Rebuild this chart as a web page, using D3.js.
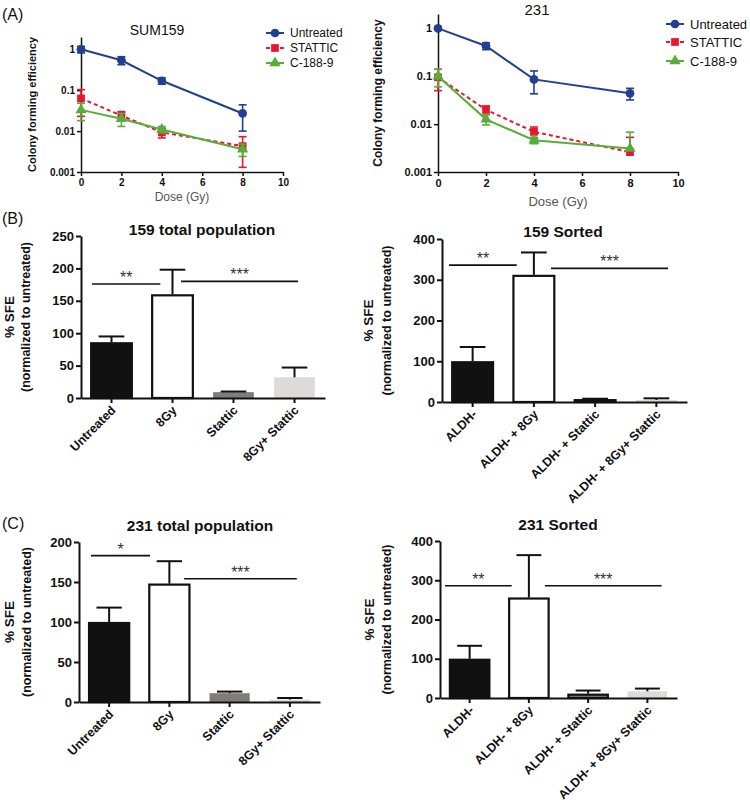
<!DOCTYPE html>
<html><head><meta charset="utf-8">
<script src="https://cdn.jsdelivr.net/npm/d3@7"></script>
<style>body{margin:0;background:#fff}svg{display:block}text{font-family:Arial,"Liberation Sans",sans-serif}</style>
</head><body><svg id="c" width="750" height="800"></svg>
<script>
// ---------- data: panel A (colony forming efficiency) ----------
const doses=[0,2,4,8];
const doseTicks=[0,2,4,6,8,10];
const logTicks=[0.001,0.01,0.1,1];
const logTickLabels=["0.001","0.01","0.1","1"];
const seriesNames=["Untreated","STATTIC","C-188-9"];

const sum159Untreated=[1,0.54,0.17,0.027];
const sum159UntreatedSD=[0.18,0.12,0.03,0.017];
const sum159Stattic=[0.063,0.024,0.0093,0.0043];
const sum159StatticSD=[0.04,0.006,0.0025,0.003];
const sum159C1889=[0.033,0.020,0.011,0.0036];
const sum159C1889SD=[0.015,0.007,0.002,0.0012];

const mda231Untreated=[1,0.43,0.086,0.044];
const mda231UntreatedSD=[0.05,0.07,0.043,0.012];
const mda231Stattic=[0.095,0.020,0.0069,0.0026];
const mda231StatticSD=[0.045,0.004,0.0018,0.0027];
const mda231C1889=[0.1,0.0126,0.0046,0.0031];
const mda231C1889SD=[0.04,0.003,0.0007,0.0037];

// ---------- data: panels B, C (% SFE) ----------
const totalCats=["Untreated","8Gy","Stattic","8Gy+ Stattic"];
const sortedCats=["ALDH-","ALDH- + 8Gy","ALDH- + Stattic","ALDH- + 8Gy+ Stattic"];

const b159TotalVals=[86,160,9,32];
const b159TotalSD=[9,38,1,15];
const b159SortedVals=[100,312,7,5];
const b159SortedSD=[35,55,1,4];
const c231TotalVals=[100,148,11,3];
const c231TotalSD=[18,28,2,2];
const c231SortedVals=[100,256,11,17];
const c231SortedSD=[33,108,8,7];

const ticks250=[0,50,100,150,200,250];
const ticks200=[0,50,100,150,200];
const ticks400=[0,100,200,300,400];

// ---------- drawing ----------
const svg=d3.select("#c");
const INK="#111";

function styleAxis(a,w,fs){
  a.select(".domain").attr("stroke",INK).attr("stroke-width",w);
  a.selectAll(".tick line").attr("stroke",INK).attr("stroke-width",w);
  a.selectAll(".tick text").attr("fill",INK).attr("font-weight","bold").attr("font-size",fs)
    .attr("font-family",'Arial,"Liberation Sans",sans-serif');
}

const seriesStyle=[
  {color:"#233f8f",dash:null,sym:d3.symbolCircle},
  {color:"#e8162e",dash:"4,3",sym:d3.symbolSquare},
  {color:"#58ad3a",dash:null,sym:d3.symbolTriangle}
];

function drawLinePanel(o){
  const g=svg.append("g");
  const x=d3.scaleLinear().domain([0,10]).range(o.xr);
  const y=d3.scaleLog().domain([0.001,2]).range(o.yr);
  const xa=g.append("g").attr("transform",`translate(0,${o.yr[0]})`)
    .call(d3.axisBottom(x).tickValues(doseTicks).tickSize(4).tickSizeOuter(0).tickPadding(3));
  styleAxis(xa,1.5,o.tickFs);
  const ya=g.append("g").attr("transform",`translate(${o.xr[0]},0)`)
    .call(d3.axisLeft(y).tickValues(logTicks).tickFormat((d,i)=>logTickLabels[i]).tickSize(4).tickSizeOuter(0).tickPadding(2));
  styleAxis(ya,1.5,o.tickFs);

  g.append("text").attr("x",(o.xr[0]+o.xr[1])/2).attr("y",o.xlabY).attr("text-anchor","middle")
    .attr("font-size",o.labFs).attr("fill","#555").text("Dose (Gy)");
  g.append("text").attr("transform",`translate(${o.ylabX},${(o.yr[0]+o.yr[1])/2}) rotate(-90)`)
    .attr("text-anchor","middle").attr("font-size",o.tickFs+1).attr("font-weight","bold").attr("fill",INK)
    .text("Colony forming efficiency");
  g.append("text").attr("x",o.titleX).attr("y",o.titleY).attr("text-anchor","middle")
    .attr("font-size",o.titleFs).attr("fill",INK).text(o.title);

  o.series.forEach((s,k)=>{
    const st=seriesStyle[k];
    const pts=doses.map((d,i)=>({d,v:s.v[i],sd:s.sd[i]}));
    g.append("path").datum(pts).attr("fill","none").attr("stroke",st.color).attr("stroke-width",2)
      .attr("stroke-dasharray",st.dash)
      .attr("d",d3.line().x(p=>x(p.d)).y(p=>y(p.v)));
    pts.forEach(p=>{
      const hi=y(p.v+p.sd);
      const lo=(p.v-p.sd)>0?y(p.v-p.sd):y(p.v);
      const cx=x(p.d);
      g.append("line").attr("x1",cx).attr("x2",cx).attr("y1",hi).attr("y2",lo).attr("stroke",st.color).attr("stroke-width",1.6);
      g.append("line").attr("x1",cx-4).attr("x2",cx+4).attr("y1",hi).attr("y2",hi).attr("stroke",st.color).attr("stroke-width",1.6);
      if(p.v-p.sd>0) g.append("line").attr("x1",cx-4).attr("x2",cx+4).attr("y1",lo).attr("y2",lo).attr("stroke",st.color).attr("stroke-width",1.6);
      g.append("path").attr("transform",`translate(${cx},${y(p.v)})`)
        .attr("d",d3.symbol().type(st.sym).size(k===2?55:60)()).attr("fill",st.color);
    });
    const ly=o.legY[k];
    g.append("line").attr("x1",o.legX-9).attr("x2",o.legX+9).attr("y1",ly).attr("y2",ly)
      .attr("stroke",st.color).attr("stroke-width",2).attr("stroke-dasharray",st.dash);
    g.append("path").attr("transform",`translate(${o.legX},${ly})`)
      .attr("d",d3.symbol().type(st.sym).size(k===2?55:60)()).attr("fill",st.color);
    g.append("text").attr("x",o.legX+15).attr("y",ly).attr("dy","0.35em").attr("font-size",o.legFs)
      .attr("fill",INK).text(seriesNames[k]);
  });
}

drawLinePanel({xr:[81,283],yr:[172,37],tickFs:10,labFs:12,xlabY:201,ylabX:36,
  title:"SUM159",titleX:157,titleY:35,titleFs:14,legX:275,legY:[33,48,63],legFs:12,
  series:[{v:sum159Untreated,sd:sum159UntreatedSD},{v:sum159Stattic,sd:sum159StatticSD},{v:sum159C1889,sd:sum159C1889SD}]});
drawLinePanel({xr:[438,678],yr:[172,14],tickFs:11,labFs:13,xlabY:206,ylabX:382,
  title:"231",titleX:537,titleY:15,titleFs:15,legX:675,legY:[24,42,61],legFs:13,
  series:[{v:mda231Untreated,sd:mda231UntreatedSD},{v:mda231Stattic,sd:mda231StatticSD},{v:mda231C1889,sd:mda231C1889SD}]});

const barFills=["#111111","#ffffff","#817c7c","#dcdbd7"];

function drawBarPanel(o){
  const g=svg.append("g");
  const x=d3.scaleBand().domain(o.cats).range(o.xr).paddingInner(0.3).paddingOuter(0.15);
  const y=d3.scaleLinear().domain([0,o.ymax]).range(o.yr);
  const bw=x.bandwidth();
  o.cats.forEach((c,i)=>{
    const v=o.vals[i],sd=o.sd[i];
    const bx=x(c);
    const outline=(i<2)||(i===2&&o.outline3);
    g.append("rect").attr("x",bx+1).attr("y",y(v)+(outline?1:0)).attr("width",bw-2)
      .attr("height",Math.max(0,y(0)-y(v)-(outline?1:0)))
      .attr("fill",barFills[i]).attr("stroke",outline?INK:"none").attr("stroke-width",2.2);
    const cx=bx+bw/2, cw=bw*0.3;
    g.append("line").attr("x1",cx).attr("x2",cx).attr("y1",y(v)).attr("y2",y(v+sd)).attr("stroke",INK).attr("stroke-width",2);
    g.append("line").attr("x1",cx-cw).attr("x2",cx+cw).attr("y1",y(v+sd)).attr("y2",y(v+sd)).attr("stroke",INK).attr("stroke-width",2);
  });
  const ya=g.append("g").attr("transform",`translate(${o.xr[0]},0)`)
    .call(d3.axisLeft(y).tickValues(o.ticks).tickSize(5).tickSizeOuter(0).tickPadding(2));
  styleAxis(ya,2,13);
  const xa=g.append("g").attr("transform",`translate(0,${o.yr[0]})`)
    .call(d3.axisBottom(x).tickSize(5).tickSizeOuter(0));
  styleAxis(xa,2,12.5);
  xa.selectAll(".tick text").attr("text-anchor","end").attr("dy",null).attr("y",null)
    .attr("transform","translate(5,13) rotate(-45)");
  g.append("text").attr("x",o.titleX).attr("y",o.titleY).attr("text-anchor","middle")
    .attr("font-size",15.5).attr("font-weight","bold").attr("fill",INK).text(o.title);
  const my=(o.yr[0]+o.yr[1])/2;
  g.append("text").attr("transform",`translate(${o.ylabX[0]},${my}) rotate(-90)`).attr("dy","0.35em")
    .attr("text-anchor","middle").attr("font-size",13.5).attr("font-weight","bold").attr("fill",INK).text("% SFE");
  g.append("text").attr("transform",`translate(${o.ylabX[1]},${my}) rotate(-90)`).attr("dy","0.35em")
    .attr("text-anchor","middle").attr("font-size",12.5).attr("font-weight","bold").attr("fill",INK).text("(normalized to untreated)");
  const step=x.step(), c0=x(o.cats[0])+bw/2;
  o.sig.forEach(s=>{
    const x1=c0+s.a*step,x2=c0+s.b*step,yy=y(s.y);
    g.append("line").attr("x1",x1).attr("x2",x2).attr("y1",yy).attr("y2",yy).attr("stroke",INK).attr("stroke-width",1.6);
    g.append("text").attr("x",(x1+x2)/2).attr("y",yy-1).attr("text-anchor","middle").attr("font-size",16)
      .attr("fill","#333").text(s.t);
  });
}

drawBarPanel({cats:totalCats,vals:b159TotalVals,sd:b159TotalSD,ymax:250,ticks:ticks250,xr:[81,325],yr:[398,236],
  title:"159 total population",titleX:202,titleY:235,ylabX:[9,26],outline3:false,
  sig:[{a:-0.32,b:0.8,y:176,t:"**"},{a:1.14,b:3.06,y:180,t:"***"}]});
drawBarPanel({cats:sortedCats,vals:b159SortedVals,sd:b159SortedSD,ymax:400,ticks:ticks400,xr:[442,687],yr:[402,239],
  title:"159 Sorted",titleX:563,titleY:237,ylabX:[368,387],outline3:true,
  sig:[{a:-0.385,b:0.72,y:336,t:"**"},{a:1.28,b:3.19,y:328,t:"***"}]});
drawBarPanel({cats:totalCats,vals:c231TotalVals,sd:c231TotalSD,ymax:200,ticks:ticks200,xr:[79,320],yr:[702,542],
  title:"231 total population",titleX:200,titleY:531,ylabX:[9,27],outline3:false,
  sig:[{a:-0.3,b:0.68,y:183,t:"*"},{a:1.245,b:3.115,y:154,t:"***"}]});
drawBarPanel({cats:sortedCats,vals:c231SortedVals,sd:c231SortedSD,ymax:400,ticks:ticks400,xr:[440,677],yr:[698,541],
  title:"231 Sorted",titleX:558,titleY:530,ylabX:[369,387],outline3:true,
  sig:[{a:-0.415,b:0.71,y:286,t:"**"},{a:1.27,b:3.24,y:286,t:"***"}]});

[["(A)",20],["(B)",224],["(C)",529]].forEach(([t,yy])=>{
  svg.append("text").attr("x",2).attr("y",yy).attr("font-size",16).attr("fill",INK).text(t);
});
</script></body></html>
